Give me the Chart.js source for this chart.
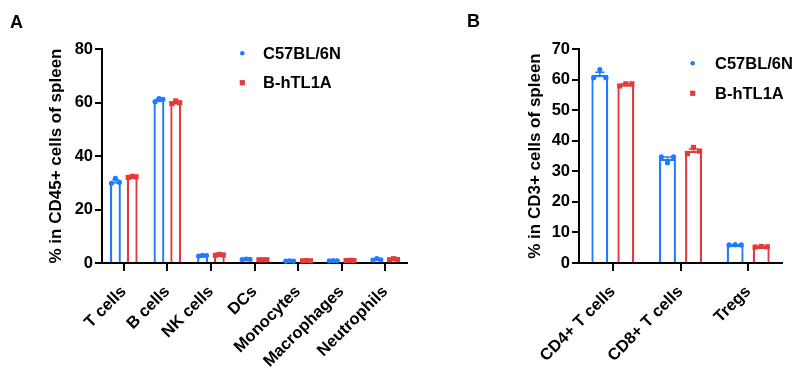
<!DOCTYPE html>
<html><head><meta charset="utf-8">
<script src="https://cdn.jsdelivr.net/npm/chart.js@4"></script>
<style>
html,body{margin:0;padding:0;background:#fff;}
#wrap{position:relative;width:804px;height:378px;overflow:hidden;background:#fff;}
#ca{position:absolute;left:0;top:0;}
#cb{position:absolute;left:420px;top:0;}
.lbl{position:absolute;font:bold 18px "Liberation Sans",Arial,sans-serif;line-height:18px;color:#000;}
</style></head><body>
<div id="wrap">
<canvas id="ca" width="420" height="378" style="width:420px;height:378px"></canvas>
<canvas id="cb" width="384" height="378" style="width:384px;height:378px"></canvas>
<div class="lbl" style="left:10px;top:13px">A</div>
<div class="lbl" style="left:467px;top:12px">B</div>
</div>
<script>
// ---------- data ----------
const seriesNames = ['C57BL/6N', 'B-hTL1A'];

// Panel A
const catsA = ['T cells', 'B cells', 'NK cells', 'DCs', 'Monocytes', 'Macrophages', 'Neutrophils'];
const wtMeanA = [30.5, 61.0, 2.8, 1.4, 0.7, 0.8, 1.3];
const tgMeanA = [32.2, 60.0, 3.0, 1.2, 0.8, 0.9, 1.4];
const wtErrA = [0.6, 0.4, 0.1, 0.1, 0.05, 0.05, 0.15];
const tgErrA = [0.1, 0.3, 0.1, 0.05, 0.05, 0.05, 0.15];
const wtPtsA = [[29.8, 31.6, 30.2], [60.3, 61.5, 61.2], [2.6, 2.9, 2.8], [1.3, 1.5, 1.4], [0.7, 0.8, 0.7], [0.8, 0.9, 0.8], [1.1, 1.6, 1.2]];
const tgPtsA = [[32.0, 32.4, 32.2], [59.6, 60.6, 59.9], [2.9, 3.2, 3.0], [1.2, 1.2, 1.2], [0.8, 0.9, 0.8], [0.9, 1.0, 0.9], [1.2, 1.6, 1.3]];
const yTicksA = [0, 20, 40, 60, 80];
const yTitleA = '% in CD45+ cells of spleen';

// Panel B
const catsB = ['CD4+ T cells', 'CD8+ T cells', 'Tregs'];
const wtMeanB = [61.5, 34.1, 5.9];
const tgMeanB = [58.4, 36.7, 5.3];
const wtErrB = [0.9, 0.6, 0.05];
const tgErrB = [0.2, 0.6, 0.1];
const wtPtsB = [[60.6, 63.3, 60.6], [34.7, 32.8, 34.7], [5.9, 6.0, 5.9]];
const tgPtsB = [[57.9, 58.6, 58.6], [35.8, 37.8, 36.6], [5.2, 5.4, 5.3]];
const yTicksB = [0, 10, 20, 30, 40, 50, 60, 70];
const yTitleB = '% in CD3+ cells of spleen';

// ---------- styles ----------
const BLUE = '#1f7bff';
const RED = '#e23b3b';
const FAM = '"Liberation Sans", Arial, sans-serif';

const overlayPlugin = {
  id: 'overlay',
  afterDatasetsDraw(chart, args, opts) {
    const ctx = chart.ctx;
    const ys = chart.scales.y;
    chart.data.datasets.forEach((ds, i) => {
      const meta = chart.getDatasetMeta(i);
      meta.data.forEach((bar, j) => {
        const x = bar.x, w = bar.width;
        const mean = ds.data[j];
        const err = ds.errors[j];
        const yTop = ys.getPixelForValue(mean + err);
        const yMean = ys.getPixelForValue(mean);
        ctx.save();
        ctx.strokeStyle = ds.borderColor;
        ctx.lineWidth = 1.5;
        ctx.beginPath();
        ctx.moveTo(x, yMean); ctx.lineTo(x, yTop);
        ctx.moveTo(x - w * 0.28, yTop); ctx.lineTo(x + w * 0.28, yTop);
        ctx.stroke();
        ctx.fillStyle = ds.borderColor;
        const offs = [-0.36, 0, 0.36];
        ds.points[j].forEach((v, k) => {
          const px = x + offs[k] * w;
          const py = ys.getPixelForValue(v);
          ctx.beginPath();
          if (ds.marker === 'circle') {
            ctx.arc(px, py, 2.6, 0, Math.PI * 2);
          } else {
            ctx.rect(px - 2.6, py - 2.6, 5.2, 5.2);
          }
          ctx.fill();
        });
        ctx.restore();
      });
    });
  },
  afterDraw(chart, args, opts) {
    const ctx = chart.ctx;
    ctx.save();
    chart.data.datasets.forEach((ds, i) => {
      const mx = opts.x, my = opts.y + i * opts.gap;
      ctx.fillStyle = ds.borderColor;
      ctx.beginPath();
      if (ds.marker === 'circle') ctx.arc(mx, my, 2.3, 0, Math.PI * 2);
      else ctx.rect(mx - 2.6, my - 2.6, 5.2, 5.2);
      ctx.fill();
      ctx.fillStyle = '#000';
      ctx.font = 'bold 16.5px ' + FAM;
      ctx.textAlign = 'left';
      ctx.textBaseline = 'middle';
      ctx.fillText(ds.label, opts.textX, my + 1);
    });
    ctx.restore();
  }
};

function makeChart(id, cats, wtMean, tgMean, wtErr, tgErr, wtPts, tgPts, yTicks, yTitle, geo) {
  return new Chart(document.getElementById(id), {
    type: 'bar',
    data: {
      labels: cats,
      datasets: [
        { label: seriesNames[0], data: wtMean, errors: wtErr, points: wtPts, marker: 'circle',
          backgroundColor: '#fff', borderColor: BLUE, borderWidth: 2.3, borderSkipped: 'start',
          categoryPercentage: 0.77, barPercentage: 0.65 },
        { label: seriesNames[1], data: tgMean, errors: tgErr, points: tgPts, marker: 'square',
          backgroundColor: '#fff', borderColor: RED, borderWidth: 2.3, borderSkipped: 'start',
          categoryPercentage: 0.77, barPercentage: 0.65 }
      ]
    },
    options: {
      responsive: false,
      animation: false,
      devicePixelRatio: 1,
      layout: { padding: { left: 0, top: geo.top, right: geo.right, bottom: 0 } },
      plugins: {
        legend: { display: false },
        tooltip: { enabled: false },
        overlay: geo.legend
      },
      scales: {
        x: {
          offset: true,
          afterFit: s => { s.height = geo.xH; },
          border: { display: true, color: '#000', width: 2 },
          grid: { offset: false, drawOnChartArea: false, drawTicks: true, tickLength: 8, color: '#000', lineWidth: 2 },
          ticks: { color: '#000', font: { family: FAM, size: 16.5, weight: 'bold' }, minRotation: 45, maxRotation: 45, autoSkip: false, padding: 11 }
        },
        y: {
          min: yTicks[0], max: yTicks[yTicks.length - 1],
          afterBuildTicks: s => { s.ticks = yTicks.map(v => ({ value: v })); },
          afterFit: s => { s.width = geo.yW; },
          border: { display: true, color: '#000', width: 2 },
          grid: { drawOnChartArea: false, drawTicks: true, tickLength: 7, color: '#000', lineWidth: 2 },
          ticks: { color: '#000', font: { family: FAM, size: 16.5, weight: 'bold' }, padding: 2 },
          title: { display: true, text: yTitle, color: '#000', font: { family: FAM, size: 17, weight: 'bold' }, padding: { top: geo.titlePad, bottom: 0 } }
        }
      }
    },
    plugins: [overlayPlugin]
  });
}

makeChart('ca', catsA, wtMeanA, tgMeanA, wtErrA, tgErrA, wtPtsA, tgPtsA, yTicksA, yTitleA,
  { top: 49, right: 13, xH: 115, yW: 102, titlePad: 45.8, legend: { x: 242.3, y: 53.3, gap: 29.4, textX: 263 } });
makeChart('cb', catsB, wtMeanB, tgMeanB, wtErrB, tgErrB, wtPtsB, tgPtsB, yTicksB, yTitleB,
  { top: 49, right: 22, xH: 115, yW: 159, titlePad: 104.8, legend: { x: 272.7, y: 63.3, gap: 30, textX: 295 } });
</script>
</body></html>
